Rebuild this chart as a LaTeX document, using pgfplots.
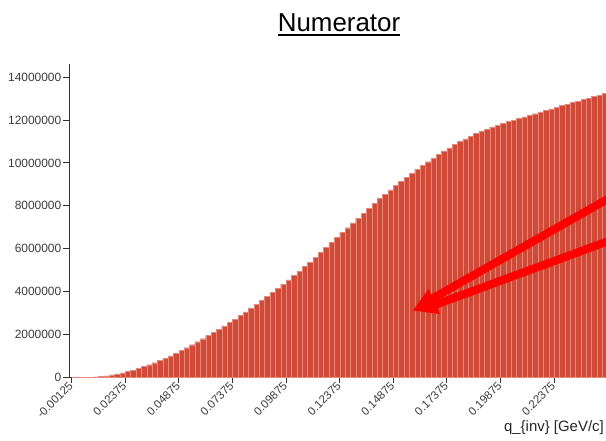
\documentclass[border=0pt]{standalone}
\usepackage{fontspec}
\setmainfont{Liberation Sans}
\usepackage{pgfplots}
\pgfplotsset{compat=1.18}
\definecolor{barc}{RGB}{209,74,56}
\definecolor{barl}{RGB}{230,135,120}
\definecolor{axc}{RGB}{51,51,51}
\definecolor{txc}{RGB}{60,60,60}
\begin{document}
\begin{tikzpicture}[x=1bp,y=1bp]
\useasboundingbox (0,0) rectangle (606,441);
\begin{axis}[
  at={(69bp,63.7bp)}, anchor=south west,
  scale only axis, width=537bp, height=313.3bp,
  xmin=-0.0025, xmax=0.248, ymin=0, ymax=14620000,
  scaled y ticks=false, scaled x ticks=false,
  axis x line*=bottom, axis y line*=left,
  axis line style={axc, line width=1bp},
  tick style={axc, line width=1bp},
  tick align=outside, major tick length=6bp,
  xtick={-0.00125,0.02375,0.04875,0.07375,0.09875,0.12375,0.14875,0.17375,0.19875,0.22375},
  xticklabels={-0.00125,0.02375,0.04875,0.07375,0.09875,0.12375,0.14875,0.17375,0.19875,0.22375},
  ytick={0,2000000,4000000,6000000,8000000,10000000,12000000,14000000},
  yticklabels={0,2000000,4000000,6000000,8000000,10000000,12000000,14000000},
  xticklabel style={rotate=45, anchor=east, font=\fontsize{11.5}{13}\selectfont, text=txc, inner sep=1bp},
  yticklabel style={font=\fontsize{12}{14}\selectfont, text=txc, inner sep=1.5bp},
  ybar, bar width=0.0025,
  clip=true,
]
\addplot[fill=barc, draw=barl, line width=0.3bp] coordinates {
(0.0000,0) (0.0025,0) (0.0050,3000) (0.0075,10000)
(0.0100,20000) (0.0125,40000) (0.0150,70000) (0.0175,110000)
(0.0200,150000) (0.0225,210000) (0.0250,270000) (0.0275,340000)
(0.0300,420000) (0.0325,500000) (0.0350,590000) (0.0375,680000)
(0.0400,780000) (0.0425,890000) (0.0450,1000000) (0.0475,1120000)
(0.0500,1250000) (0.0525,1380000) (0.0550,1520000) (0.0575,1660000)
(0.0600,1800000) (0.0625,1950000) (0.0650,2100000) (0.0675,2250000)
(0.0700,2400000) (0.0725,2560000) (0.0750,2720000) (0.0775,2880000)
(0.0800,3050000) (0.0825,3230000) (0.0850,3410000) (0.0875,3590000)
(0.0900,3780000) (0.0925,3970000) (0.0950,4160000) (0.0975,4350000)
(0.1000,4550000) (0.1025,4750000) (0.1050,4960000) (0.1075,5170000)
(0.1100,5380000) (0.1125,5600000) (0.1150,5830000) (0.1175,6060000)
(0.1200,6300000) (0.1225,6530000) (0.1250,6750000) (0.1275,6980000)
(0.1300,7200000) (0.1325,7430000) (0.1350,7660000) (0.1375,7890000)
(0.1400,8120000) (0.1425,8340000) (0.1450,8550000) (0.1475,8750000)
(0.1500,8950000) (0.1525,9150000) (0.1550,9340000) (0.1575,9520000)
(0.1600,9700000) (0.1625,9880000) (0.1650,10060000) (0.1675,10230000)
(0.1700,10400000) (0.1725,10560000) (0.1750,10710000) (0.1775,10860000)
(0.1800,11000000) (0.1825,11130000) (0.1850,11250000) (0.1875,11370000)
(0.1900,11480000) (0.1925,11580000) (0.1950,11680000) (0.1975,11770000)
(0.2000,11850000) (0.2025,11930000) (0.2050,12000000) (0.2075,12080000)
(0.2100,12150000) (0.2125,12230000) (0.2150,12300000) (0.2175,12380000)
(0.2200,12450000) (0.2225,12530000) (0.2250,12600000) (0.2275,12680000)
(0.2300,12750000) (0.2325,12820000) (0.2350,12890000) (0.2375,12960000)
(0.2400,13030000) (0.2425,13100000) (0.2450,13170000) (0.2475,13240000)
};
\end{axis}
% title
\node[anchor=base, inner sep=0] (t) at (339,409) {\fontsize{26}{30}\selectfont Numerator};
\draw[black, line width=2bp] ([yshift=-3.5bp]t.base west) -- ([yshift=-3.5bp]t.base east);
% x label
\node[anchor=base east, inner sep=0, text=black!85] at (604,9) {\fontsize{15}{17}\selectfont q\_\{inv\} [GeV/c]};
% annotation arrows
\draw[red, line width=8bp] (620,249) -- (428,140);
\draw[red, line width=8bp] (620,204.2) -- (428,133.5);
\fill[red] (413,130.5) -- (428.5,152) -- (440,127) -- cycle;
\end{tikzpicture}
\end{document}
